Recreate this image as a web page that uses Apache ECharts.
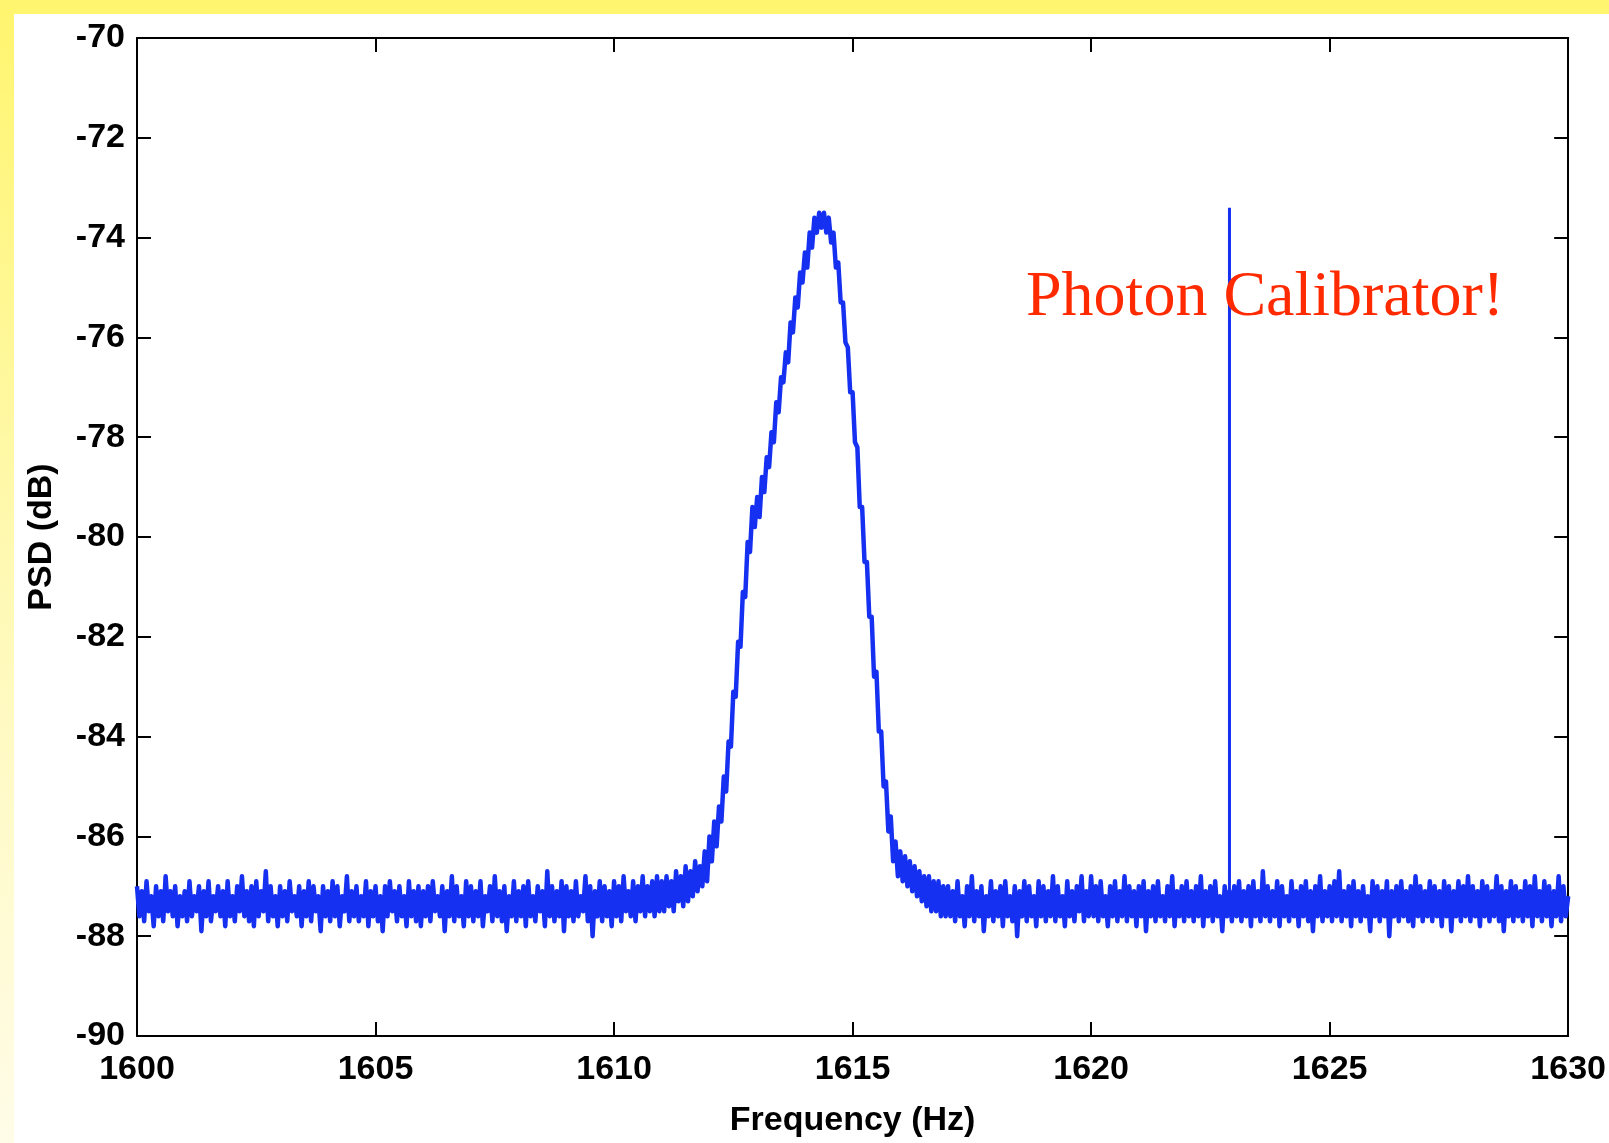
<!DOCTYPE html>
<html>
<head>
<meta charset="utf-8">
<title>PSD around 1615 Hz</title>
<script src="https://cdn.jsdelivr.net/npm/echarts/dist/echarts.min.js"></script>
<style>
  html, body { margin: 0; padding: 0; background: #ffffff; }
  #chart { width: 1609px; height: 1143px; }
</style>
</head>
<body>
<div id="chart"></div>
<script>
// Frequency grid of the spectrum (Hz)
const freqStart = 1600;
const freqStep = 0.05;

// PSD (dB), 1600.00 .. 1611.95 Hz, one row per Hz
const psdFloorLow = [
  -87.0,-87.6,-87.1,-87.7,-86.9,-87.5,-87.2,-87.8,-87.0,-87.6,-87.1,-87.7,-86.8,-87.5,-87.1,-87.6,-87.0,-87.8,-87.2,-87.6,
  -87.1,-87.7,-86.9,-87.6,-87.2,-87.5,-87.0,-87.9,-87.1,-87.6,-86.9,-87.7,-87.2,-87.5,-87.0,-87.6,-87.1,-87.8,-86.9,-87.6,
  -87.2,-87.7,-87.0,-87.5,-86.8,-87.6,-87.1,-87.7,-87.0,-87.8,-86.9,-87.6,-87.1,-87.5,-86.7,-87.7,-87.0,-87.6,-87.2,-87.8,
  -87.0,-87.6,-87.1,-87.7,-86.9,-87.5,-87.2,-87.6,-87.0,-87.8,-87.1,-87.6,-86.9,-87.7,-87.0,-87.5,-87.2,-87.9,-87.0,-87.6,
  -87.1,-87.7,-86.9,-87.6,-87.0,-87.8,-87.2,-87.5,-86.8,-87.7,-87.1,-87.6,-87.0,-87.7,-87.2,-87.6,-86.9,-87.8,-87.1,-87.6,
  -87.0,-87.7,-87.2,-87.9,-87.0,-87.6,-86.9,-87.5,-87.1,-87.7,-87.0,-87.6,-87.2,-87.8,-86.9,-87.6,-87.1,-87.7,-87.0,-87.8,
  -87.1,-87.6,-87.0,-87.7,-86.9,-87.5,-87.2,-87.6,-87.0,-87.9,-87.1,-87.6,-86.8,-87.7,-87.0,-87.6,-87.2,-87.8,-86.9,-87.6,
  -87.0,-87.7,-87.1,-87.6,-86.9,-87.8,-87.2,-87.5,-87.0,-87.7,-86.8,-87.6,-87.1,-87.7,-87.0,-87.9,-87.2,-87.6,-86.9,-87.7,
  -87.1,-87.6,-87.0,-87.8,-86.9,-87.6,-87.2,-87.7,-87.0,-87.5,-87.1,-87.8,-86.7,-87.6,-87.0,-87.7,-87.1,-87.6,-86.9,-87.9,
  -87.0,-87.6,-87.1,-87.7,-86.9,-87.6,-87.2,-87.5,-86.8,-87.7,-87.0,-88.0,-87.1,-87.6,-86.9,-87.7,-87.0,-87.6,-87.1,-87.8,
  -86.9,-87.6,-87.0,-87.7,-86.8,-87.5,-87.1,-87.6,-86.9,-87.7,-87.0,-87.5,-86.8,-87.6,-87.0,-87.5,-86.9,-87.6,-86.8,-87.5,
  -86.9,-87.5,-86.8,-87.4,-86.9,-87.5,-86.7,-87.3,-86.8,-87.4,-86.6,-87.3,-86.7,-87.2,-86.5,-87.1,-86.6,-87.0,-86.3,-86.9
];

// PSD (dB), 1612.00 .. 1616.95 Hz: the line and its shoulder
const psdPeak = [
  -86.0,-86.5,-85.7,-86.2,-85.4,-85.7,-84.8,-85.1,-84.1,-84.2,-83.1,-83.2,-82.1,-82.2,-81.1,-81.2,-80.1,-80.3,-79.4,-79.8,
  -79.2,-79.6,-78.8,-79.1,-78.4,-78.6,-77.9,-78.1,-77.3,-77.5,-76.8,-76.9,-76.3,-76.5,-75.7,-75.9,-75.2,-75.4,-74.7,-74.9,
  -74.3,-74.6,-73.9,-74.2,-73.6,-73.9,-73.5,-73.8,-73.5,-73.9,-73.6,-74.1,-73.9,-74.6,-74.5,-75.3,-75.3,-76.1,-76.2,-77.1,
  -77.1,-78.1,-78.2,-79.4,-79.4,-80.5,-80.5,-81.6,-81.6,-82.8,-82.7,-83.9,-83.9,-85.0,-84.9,-85.9,-85.6,-86.5,-86.1,-86.8,
  -86.3,-86.9,-86.4,-87.0,-86.5,-87.1,-86.6,-87.2,-86.7,-87.3,-86.8,-87.4,-86.8,-87.5,-86.9,-87.5,-86.9,-87.6,-87.0,-87.6
];

// PSD (dB), 1617.00 .. 1630.00 Hz
const psdFloorHigh = [
  -87.0,-87.6,-87.1,-87.7,-86.9,-87.6,-87.2,-87.8,-87.0,-87.6,-86.8,-87.7,-87.1,-87.6,-87.0,-87.9,-87.2,-87.6,-86.9,-87.7,
  -87.1,-87.6,-87.0,-87.8,-86.9,-87.6,-87.2,-87.7,-87.0,-88.0,-87.1,-87.6,-86.9,-87.7,-87.0,-87.6,-87.2,-87.8,-86.9,-87.6,
  -87.0,-87.7,-87.1,-87.6,-86.8,-87.7,-87.0,-87.6,-87.2,-87.8,-86.9,-87.6,-87.1,-87.7,-87.0,-87.5,-86.8,-87.7,-87.1,-87.6,
  -86.8,-87.6,-87.0,-87.7,-86.9,-87.6,-87.2,-87.8,-87.0,-87.6,-86.9,-87.7,-87.1,-87.6,-86.8,-87.7,-87.0,-87.6,-87.1,-87.8,
  -87.0,-87.6,-86.9,-87.9,-87.1,-87.6,-87.0,-87.7,-86.9,-87.6,-87.2,-87.7,-87.0,-87.6,-86.8,-87.8,-87.1,-87.6,-87.0,-87.7,
  -86.9,-87.6,-87.1,-87.7,-87.0,-87.6,-86.8,-87.8,-87.1,-87.6,-87.0,-87.7,-86.9,-87.6,-87.2,-87.9,-87.0,-87.6,-87.1,-87.7,
  -87.0,-87.6,-86.9,-87.7,-87.1,-87.6,-87.0,-87.8,-86.9,-87.6,-87.1,-87.7,-86.7,-87.6,-87.0,-87.7,-87.1,-87.6,-86.9,-87.8,
  -87.0,-87.6,-87.2,-87.7,-86.9,-87.6,-87.1,-87.8,-87.0,-87.6,-86.9,-87.7,-87.1,-87.9,-87.0,-87.6,-86.8,-87.7,-87.1,-87.6,
  -87.0,-87.7,-86.9,-87.6,-86.7,-87.7,-87.1,-87.6,-87.0,-87.8,-86.9,-87.6,-87.1,-87.7,-87.0,-87.6,-87.2,-87.9,-86.9,-87.6,
  -87.0,-87.7,-87.1,-87.6,-86.9,-88.0,-87.1,-87.6,-87.0,-87.7,-86.9,-87.6,-87.1,-87.7,-87.0,-87.8,-86.8,-87.6,-87.0,-87.7,
  -87.1,-87.6,-86.9,-87.7,-87.0,-87.6,-87.1,-87.8,-86.9,-87.6,-87.0,-87.9,-87.1,-87.6,-86.9,-87.7,-87.0,-87.6,-86.8,-87.7,
  -87.0,-87.6,-87.1,-87.8,-86.9,-87.6,-87.0,-87.7,-87.1,-87.6,-86.8,-87.7,-87.0,-87.9,-87.1,-87.6,-86.9,-87.7,-87.0,-87.6,
  -87.1,-87.7,-86.9,-87.6,-87.0,-87.8,-86.8,-87.6,-87.1,-87.7,-86.9,-87.6,-87.0,-87.8,-87.1,-87.6,-86.8,-87.7,-87.0,-87.6,
  -87.2
];

// Photon calibrator line: frequency (Hz), floor and top level (dB)
const calFreq = 1622.9;
const calFloor = -87.3;
const calTop = -73.4;
const calLabel = 'Photon Calibrator!';

// Axis ranges and ticks
const xMin = 1600, xMax = 1630, xInterval = 5;
const yMin = -90, yMax = -70, yInterval = 2;
const xName = 'Frequency (Hz)';
const yName = 'PSD (dB)';

const psd = psdFloorLow.concat(psdPeak, psdFloorHigh);
const spectrum = psd.map((v, i) => [+(freqStart + i * freqStep).toFixed(2), v]);
const calSeries = [[calFreq, calFloor], [calFreq, calTop]];

const traceColor = '#1530F0';
const labelFont = 'Liberation Sans, Arial, Helvetica, sans-serif';

const chart = echarts.init(document.getElementById('chart'), null, { renderer: 'canvas' });

const axisCommon = {
  axisLine: { show: true, onZero: false, lineStyle: { color: '#000', width: 2 } },
  axisTick: { show: true, inside: true, length: 14, lineStyle: { color: '#000', width: 2 } },
  splitLine: { show: false }
};
const tickLabel = { fontFamily: labelFont, fontWeight: 'bold', fontSize: 34, color: '#000' };

chart.setOption({
  animation: false,
  backgroundColor: '#ffffff',
  grid: { left: 137, right: 40, top: 38, bottom: 99, containLabel: false },
  graphic: [
    { type: 'rect', left: 0, top: 0, shape: { width: 1609, height: 14 }, style: { fill: '#FFF56E' }, silent: true },
    {
      type: 'rect', left: 0, top: 0, shape: { width: 14, height: 1143 },
      style: {
        fill: new echarts.graphic.LinearGradient(0, 0, 0, 1, [
          { offset: 0, color: '#FFF56E' },
          { offset: 0.5, color: '#FFF9B4' },
          { offset: 1, color: '#FFFCE8' }
        ])
      },
      silent: true
    },
    {
      type: 'text', left: 1026, top: 266, silent: true, z: 10,
      style: {
        text: calLabel,
        fill: '#FF2A00',
        font: '64px "Liberation Serif", "Times New Roman", Times, serif'
      }
    }
  ],
  xAxis: [
    Object.assign({}, axisCommon, {
      type: 'value', position: 'bottom', min: xMin, max: xMax, interval: xInterval,
      name: xName, nameLocation: 'middle', nameGap: 68,
      nameTextStyle: tickLabel,
      axisLabel: Object.assign({ margin: 17, formatter: v => String(v) }, tickLabel)
    }),
    Object.assign({}, axisCommon, {
      type: 'value', position: 'top', min: xMin, max: xMax, interval: xInterval,
      axisLabel: { show: false }
    })
  ],
  yAxis: [
    Object.assign({}, axisCommon, {
      type: 'value', position: 'left', min: yMin, max: yMax, interval: yInterval,
      name: yName, nameLocation: 'middle', nameGap: 78, nameRotate: 90,
      nameTextStyle: tickLabel,
      axisLabel: Object.assign({ margin: 12, formatter: v => String(v) }, tickLabel)
    }),
    Object.assign({}, axisCommon, {
      type: 'value', position: 'right', min: yMin, max: yMax, interval: yInterval,
      axisLabel: { show: false }
    })
  ],
  series: [
    {
      name: 'PSD', type: 'line', xAxisIndex: 0, yAxisIndex: 0,
      data: spectrum, showSymbol: false, symbol: 'none',
      lineStyle: { color: traceColor, width: 4.5, join: 'round' }, z: 3
    },
    {
      name: 'Photon calibrator', type: 'line', xAxisIndex: 0, yAxisIndex: 0,
      data: calSeries, showSymbol: false, symbol: 'none',
      lineStyle: { color: traceColor, width: 3 }, z: 3
    }
  ]
});
</script>
</body>
</html>
